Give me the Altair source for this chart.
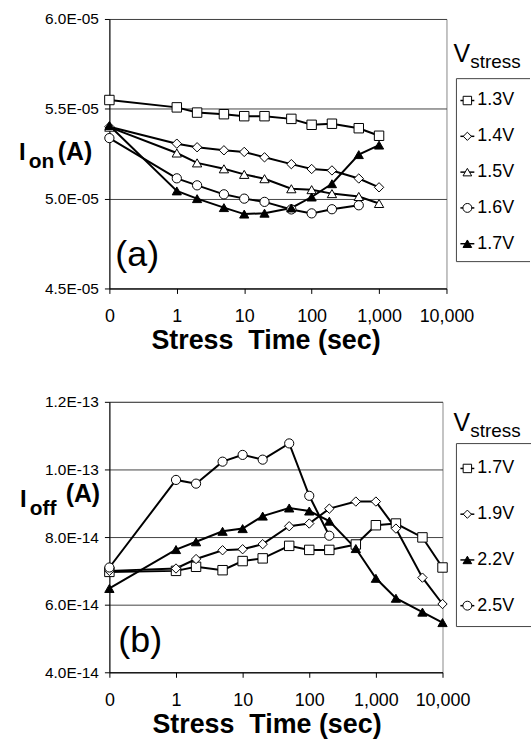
import math
import json
import altair as alt
import pandas as pd

FONT = "Liberation Sans"

# ---------------- data ----------------
xtick_labels = ["0", "1", "10", "100", "1,000", "10,000"]

# panel (a): Ion (A) vs stress time
times_a = [0, 1, 2, 5, 10, 20, 50, 100, 200, 500, 1000]
series_a = ["1.3V", "1.4V", "1.5V", "1.6V", "1.7V"]
ion_13 = [5.549e-5, 5.508e-5, 5.479e-5, 5.470e-5, 5.459e-5, 5.459e-5, 5.444e-5, 5.411e-5, 5.417e-5, 5.392e-5, 5.350e-5]
ion_14 = [5.400e-5, 5.306e-5, 5.286e-5, 5.269e-5, 5.260e-5, 5.230e-5, 5.192e-5, 5.165e-5, 5.157e-5, 5.112e-5, 5.063e-5]
ion_15 = [5.398e-5, 5.254e-5, 5.199e-5, 5.166e-5, 5.135e-5, 5.111e-5, 5.055e-5, 5.050e-5, 5.028e-5, 5.012e-5, 4.973e-5]
ion_16 = [5.337e-5, 5.113e-5, 5.074e-5, 5.024e-5, 5.000e-5, 4.982e-5, 4.940e-5, 4.918e-5, 4.941e-5, 4.963e-5]
ion_17 = [5.407e-5, 5.043e-5, 5.000e-5, 4.950e-5, 4.914e-5, 4.919e-5, 4.948e-5, 5.009e-5, 5.083e-5, 5.245e-5, 5.298e-5]
values_a = [ion_13, ion_14, ion_15, ion_16, ion_17]
shapes_a = ["square", "diamond", "triangle-up", "circle", "triangle-up"]
fills_a = ["white", "white", "white", "white", "black"]
sizes_a = [90, 85, 95, 100, 95]
yticks_a = [4.5e-5, 5.0e-5, 5.5e-5, 6.0e-5]

# panel (b): Ioff (A) vs stress time
times_b = [0, 1, 2, 5, 10, 20, 50, 100, 200, 500, 1000, 2000, 5000, 10000]
series_b = ["1.7V", "1.9V", "2.2V", "2.5V"]
ioff_17 = [6.97e-14, 7.00e-14, 7.12e-14, 7.02e-14, 7.29e-14, 7.37e-14, 7.74e-14, 7.62e-14, 7.62e-14, 7.78e-14, 8.35e-14, 8.40e-14, 7.99e-14, 7.10e-14]
ioff_19 = [7.00e-14, 7.07e-14, 7.35e-14, 7.61e-14, 7.64e-14, 7.79e-14, 8.32e-14, 8.40e-14, 8.84e-14, 9.05e-14, 9.05e-14, 8.25e-14, 6.80e-14, 6.02e-14]
ioff_22 = [6.48e-14, 7.63e-14, 7.86e-14, 8.17e-14, 8.25e-14, 8.62e-14, 8.86e-14, 8.77e-14, 8.47e-14, 7.66e-14, 6.78e-14, 6.19e-14, 5.78e-14, 5.47e-14]
ioff_25 = [7.10e-14, 9.69e-14, 9.58e-14, 10.23e-14, 10.43e-14, 10.29e-14, 10.77e-14, 9.22e-14, 8.04e-14]
values_b = [ioff_17, ioff_19, ioff_22, ioff_25]
shapes_b = ["square", "diamond", "triangle-up", "circle"]
fills_b = ["white", "white", "black", "white"]
sizes_b = [90, 85, 95, 100]
yticks_b = [4.0e-14, 6.0e-14, 8.0e-14, 1.0e-13, 1.2e-13]


def pos(t):
    return 0.0 if t == 0 else math.log10(t) + 1.0


def long_df(times, names, vals):
    rows = []
    for name, vs in zip(names, vals):
        for t, v in zip(times, vs):
            rows.append({"series": name, "t": t, "pos": pos(t), "val": v})
    return pd.DataFrame(rows)


def one(label=""):
    return pd.DataFrame({"label": [label]})


def panel(df, names, shapes, fills, sizes, ydomain, yticks, ylabel_expr, width, height,
          sub, sub_pos, panel_tag, tag_pos, legend_cfg, title_x, title_pad):
    xaxis = alt.Axis(
        values=list(range(len(xtick_labels))),
        labelExpr=json.dumps(xtick_labels) + "[datum.value]",
        title="Stress\u00a0\u00a0Time (sec)",
        titleFont=FONT, titleFontSize=27, titleFontWeight="bold", titleColor="black",
        titleX=title_x, titleAlign="center", titlePadding=title_pad,
        labelFont=FONT, labelFontSize=18, labelColor="black", labelPadding=14,
        tickColor="black", tickSize=5, domainColor="black", grid=False, labelFlush=False,
    )
    yaxis = alt.Axis(
        values=yticks, labelExpr=ylabel_expr, title=None,
        labelFont=FONT, labelFontSize=15.5, labelColor="black", labelPadding=6,
        tickColor="black", tickSize=5, domainColor="black",
        grid=True, gridColor="#444", gridWidth=1,
    )
    x = alt.X("pos:Q", scale=alt.Scale(domain=[0, 5], nice=False), axis=xaxis)
    y = alt.Y("val:Q", scale=alt.Scale(domain=ydomain, nice=False, zero=False), axis=yaxis)

    base = alt.Chart(df)
    lines = base.mark_line(color="black", strokeWidth=2).encode(
        x=x, y=y, detail="series:N", order="pos:Q")
    pts = base.mark_point(filled=True, stroke="black", strokeWidth=1, opacity=1).encode(
        x=x, y=y,
        shape=alt.Shape("series:N", scale=alt.Scale(domain=names, range=shapes), legend=None),
        fill=alt.Fill("series:N", scale=alt.Scale(domain=names, range=fills), legend=None),
        size=alt.Size("series:N", scale=alt.Scale(domain=names, range=sizes), legend=None),
    )
    layers = [lines, pts]

    # y title: I + subscript + (A)
    (ix, iy), (sx, sy), (ax_, ay) = sub_pos
    layers.append(alt.Chart(one("I")).mark_text(font=FONT, fontSize=24, fontWeight="bold",
                  align="left", baseline="alphabetic", color="black").encode(
        x=alt.value(ix), y=alt.value(iy), text="label:N"))
    layers.append(alt.Chart(one(sub)).mark_text(font=FONT, fontSize=21, fontWeight="bold",
                  align="left", baseline="alphabetic", color="black").encode(
        x=alt.value(sx), y=alt.value(sy), text="label:N"))
    layers.append(alt.Chart(one("(A)")).mark_text(font=FONT, fontSize=25, fontWeight="bold",
                  align="left", baseline="alphabetic", color="black").encode(
        x=alt.value(ax_), y=alt.value(ay), text="label:N"))
    # panel tag
    layers.append(alt.Chart(one(panel_tag)).mark_text(font=FONT, fontSize=36,
                  align="left", baseline="alphabetic", color="black").encode(
        x=alt.value(tag_pos[0]), y=alt.value(tag_pos[1]), text="label:N"))

    # manual legend
    lx, vy, box_top, box_bot, first, step, right = legend_cfg
    layers.append(alt.Chart(one("V")).mark_text(font=FONT, fontSize=25, align="left",
                  baseline="alphabetic", color="black").encode(
        x=alt.value(lx - 3), y=alt.value(vy), text="label:N"))
    layers.append(alt.Chart(one("stress")).mark_text(font=FONT, fontSize=19, align="left",
                  baseline="alphabetic", color="black").encode(
        x=alt.value(lx + 14), y=alt.value(vy + 6), text="label:N"))
    layers.append(alt.Chart(one()).mark_rule(color="#444", strokeWidth=1).encode(
        x=alt.value(lx), y=alt.value(box_top), y2=alt.value(box_bot)))
    layers.append(alt.Chart(one()).mark_rule(color="#444", strokeWidth=1).encode(
        x=alt.value(lx), x2=alt.value(right), y=alt.value(box_top)))
    layers.append(alt.Chart(one()).mark_rule(color="#444", strokeWidth=1).encode(
        x=alt.value(lx), x2=alt.value(right), y=alt.value(box_bot)))
    for i, (name, shp, fl, sz) in enumerate(zip(names, shapes, fills, sizes)):
        yy = first + i * step
        layers.append(alt.Chart(one(name)).mark_rule(color="black", strokeWidth=1.5).encode(
            x=alt.value(lx + 4), x2=alt.value(lx + 18), y=alt.value(yy)))
        layers.append(alt.Chart(one(name)).mark_point(shape=shp, filled=True, fill=fl,
                      stroke="black", strokeWidth=1, size=sz * 0.8, opacity=1).encode(
            x=alt.value(lx + 11), y=alt.value(yy)))
        layers.append(alt.Chart(one(name)).mark_text(font=FONT, fontSize=18, align="left",
                      baseline="middle", color="black").encode(
            x=alt.value(lx + 21), y=alt.value(yy), text="label:N"))

    return alt.layer(*layers).properties(width=width, height=height)


df_a = long_df(times_a, series_a, values_a)
df_b = long_df(times_b, series_b, values_b)

chart_a = panel(
    df_a, series_a, shapes_a, fills_a, sizes_a, [4.5e-5, 6.0e-5], yticks_a,
    "replace(format(datum.value, '.1e'), 'e-', 'E-0')", 339, 271,
    "on", ((-91, 142), (-81, 150), (-52, 142)), "(a)", (6, 248),
    (349, 43, 60, 244, 82, 36, 423), 157, 2,
)
chart_b = panel(
    df_b, series_b, shapes_b, fills_b, sizes_b, [4.0e-14, 1.2e-13], yticks_b,
    "replace(format(datum.value, '.1e'), 'e', 'E')", 335, 272,
    "off", ((-90, 106), (-80, 114), (-44, 101)), "(b)", (9, 252),
    (349, 29, 42, 226, 67, 46, 424), 158, 3,
)

chart = alt.vconcat(chart_a, chart_b, spacing=40).resolve_scale(
    shape="independent", fill="independent", size="independent"
).properties(
    padding={"left": 18, "top": 9, "right": 0, "bottom": 0}
).configure_view(stroke="#888", strokeWidth=1)

chart.save("out.html", embed_options={"renderer": "svg", "actions": False})
